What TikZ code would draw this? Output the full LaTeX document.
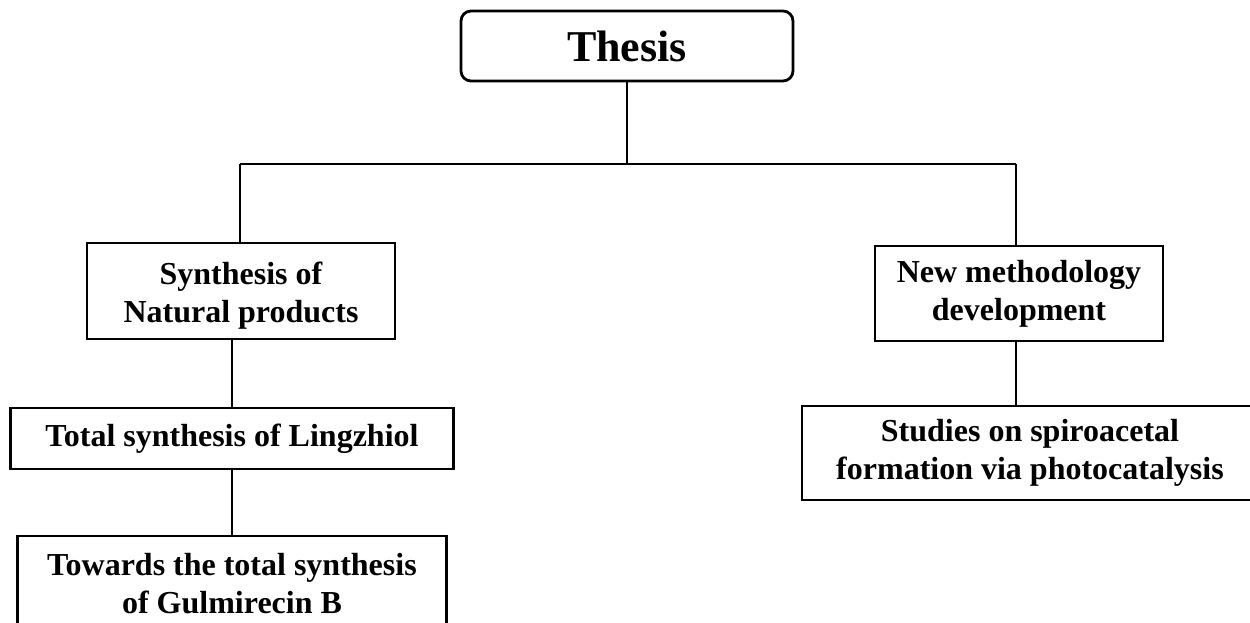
\documentclass[tikz,border=0pt]{standalone}
\usepackage{fontspec}
\setmainfont{Liberation Serif}
\begin{document}
\begin{tikzpicture}[x=0.75pt,y=-0.75pt,
  txt/.style={align=center, font=\fontsize{24}{28.5}\selectfont\bfseries},
  box/.style={draw=black, line width=2.1pt, inner sep=0pt, txt},
  link/.style={line width=2.1pt}]
\useasboundingbox (0,0) rectangle (1250,623);
\clip (0,0) rectangle (1250,623);
\node[box, rounded corners=7.5pt, minimum width=332*0.75pt, minimum height=70*0.75pt,
  font=\fontsize{33}{40}\selectfont\bfseries] (thesis) at (627,46) {Thesis};
\node[box, minimum width=308*0.75pt, minimum height=96*0.75pt,
  label={[txt, yshift=-3.5pt]center:Synthesis of\\Natural products}] (synth) at (241,291) {};
\node[box, minimum width=288*0.75pt, minimum height=95*0.75pt] (method) at (1019,293.5)
  {New methodology\\development};
\node[box, minimum width=443*0.75pt, minimum height=61*0.75pt] (ling) at (232,438.5)
  {Total synthesis of Lingzhiol};
\node[box, minimum width=429*0.75pt, minimum height=96*0.75pt] (gulm) at (232,584)
  {Towards the total synthesis\\of Gulmirecin B};
\node[box, minimum width=456*0.75pt, minimum height=94*0.75pt] (studies) at (1030,453)
  {Studies on spiroacetal\\formation via photocatalysis};
\coordinate (hl) at (240,164);
\coordinate (hr) at (1016,164);
\draw[link] (thesis.south) -- (thesis.south |- hl);
\draw[link] (hl) -- (hr);
\draw[link] (hl) -- (hl |- synth.north);
\draw[link] (hr) -- (hr |- method.north);
\draw[link] (synth.south -| ling.north) -- (ling.north);
\draw[link] (ling.south) -- (gulm.north);
\draw[link] (hr |- method.south) -- (hr |- studies.north);
\end{tikzpicture}
\end{document}
